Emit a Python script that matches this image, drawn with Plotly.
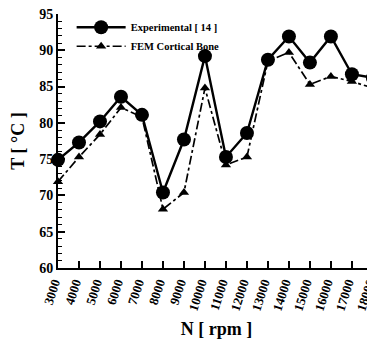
import plotly.graph_objects as go

rpm = ["3000", "4000", "5000", "6000", "7000", "8000", "9000", "10000",
       "11000", "12000", "13000", "14000", "15000", "16000", "17000", "18000"]
experimental = [74.9, 77.3, 80.2, 83.6, 81.1, 70.4, 77.7, 89.2,
                75.3, 78.6, 88.7, 91.9, 88.3, 91.9, 86.7, 86.2]
fem = [71.9, 75.3, 78.4, 82.1, 80.8, 68.1, 70.4, 84.8,
       74.2, 75.3, 88.5, 89.7, 85.3, 86.4, 85.7, 84.8]

serif = "Liberation Serif, Times New Roman, serif"

fig = go.Figure()
fig.add_trace(go.Scatter(
    x=rpm, y=experimental, name="Experimental [ 14 ]",
    mode="lines+markers",
    line=dict(color="black", width=2.4),
    marker=dict(symbol="circle", size=14, color="black"),
    cliponaxis=False,
))
fig.add_trace(go.Scatter(
    x=rpm, y=fem, name="FEM Cortical Bone",
    mode="lines+markers",
    line=dict(color="black", width=1.7, dash="dashdot"),
    marker=dict(symbol="triangle-up", size=9, color="black"),
    cliponaxis=False,
))

# page body has an 8px default margin, so the figure is offset by 8px
fig.update_layout(
    width=367, height=334,
    margin=dict(l=50, r=0, t=6, b=74),
    paper_bgcolor="white", plot_bgcolor="white",
    font=dict(family=serif, color="black"),
    showlegend=True,
    legend=dict(
        x=0.043, y=1.005, xanchor="left", yanchor="top",
        bgcolor="rgba(0,0,0,0)",
        font=dict(family=serif, size=10.5, color="black", weight="bold"),
        tracegroupgap=0, itemwidth=49,
    ),
    xaxis=dict(
        type="category",
        range=[0, 15.1],
        automargin=False,
        showgrid=False, zeroline=False,
        showline=True, linecolor="black", linewidth=2,
        ticks="inside", ticklen=7, tickwidth=2, tickcolor="black",
        tickangle=-72,
        ticklabelshift=-4,
        tickfont=dict(family=serif, size=13, color="black", weight="bold"),
        title=dict(text="N [ rpm ]", standoff=10,
                   font=dict(family=serif, size=18, color="black", weight="bold")),
    ),
    yaxis=dict(
        range=[60, 95],
        automargin=False,
        ticklabeloverflow="allow",
        tickvals=[60, 65, 70, 75, 80, 85, 90, 95],
        showgrid=False, zeroline=False,
        showline=True, linecolor="black", linewidth=2,
        ticks="inside", ticklen=7, tickwidth=2, tickcolor="black",
        minor=dict(dtick=1, ticks="inside", ticklen=4, tickwidth=1, tickcolor="black"),
        tickfont=dict(family=serif, size=14, color="black", weight="bold"),
        title=dict(text="T [ °C ]", standoff=12,
                   font=dict(family=serif, size=18, color="black", weight="bold")),
    ),
)

fig.write_html("out.html")
